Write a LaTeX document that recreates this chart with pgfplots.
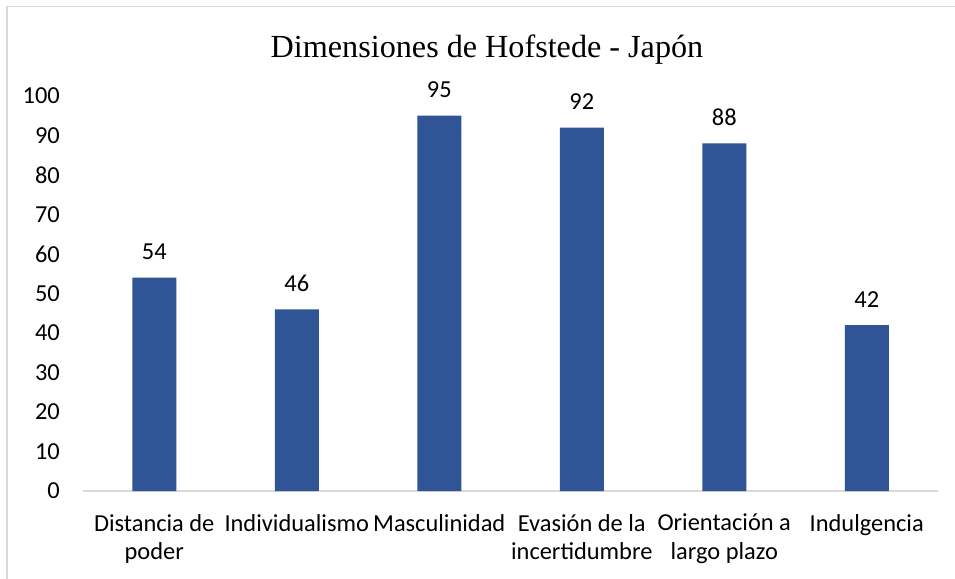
\documentclass[border=0pt]{standalone}
\usepackage{pgfplots}
\pgfplotsset{compat=1.18}
\usepackage{fontspec}
\setmainfont{Carlito}
\newfontfamily\titlefont{Liberation Serif}
\definecolor{barblue}{HTML}{2F5597}
\definecolor{frame}{HTML}{D9D9D9}
\begin{document}
\begin{tikzpicture}
\useasboundingbox (0,0) rectangle (955bp,579bp);
\fill[white] (0,0) rectangle (955bp,579bp);
\draw[frame, line width=1.6bp] (6.7bp,0) -- (6.7bp,572.3bp) -- (956bp,572.3bp);
\node[anchor=base, inner sep=0pt] at (487bp,521.5bp) {\titlefont\fontsize{32.3}{38}\selectfont Dimensiones de Hofstede - Japón};
\begin{axis}[
  at={(83bp,88bp)}, anchor=south west,
  scale only axis, width=855bp, height=395bp,
  xmin=-0.5, xmax=5.5, ymin=0, ymax=100,
  ybar, bar width=44bp,
  bar shift=0pt,
  axis x line*=bottom, axis y line*=left,
  y axis line style={draw=none},
  x axis line style={draw=frame, line width=1.5bp, -},
  major tick length=0pt,
  xtick=data,
  xticklabels={{Distancia de\\poder},Individualismo,Masculinidad,{Evasión de la\\incertidumbre},{Orientación a\\largo plazo},Indulgencia},
  ytick={0,10,...,100},
  /pgf/number format/assume math mode=true,
  tick label style={font=\fontsize{24.5}{28.3}\selectfont, text=black},
  xticklabel style={align=center, inner sep=0pt, yshift=-23bp},
  yticklabel style={inner sep=0pt, xshift=-23bp},
  nodes near coords,
  every node near coord/.append style={font=\fontsize{24.5}{27}\selectfont, text=black, inner sep=0pt, yshift=17.7bp},
  clip=false,
]
\addplot[fill=barblue, draw=none] coordinates {(0,54) (1,46) (2,95) (3,92) (4,88) (5,42)};
\end{axis}
\end{tikzpicture}
\end{document}
